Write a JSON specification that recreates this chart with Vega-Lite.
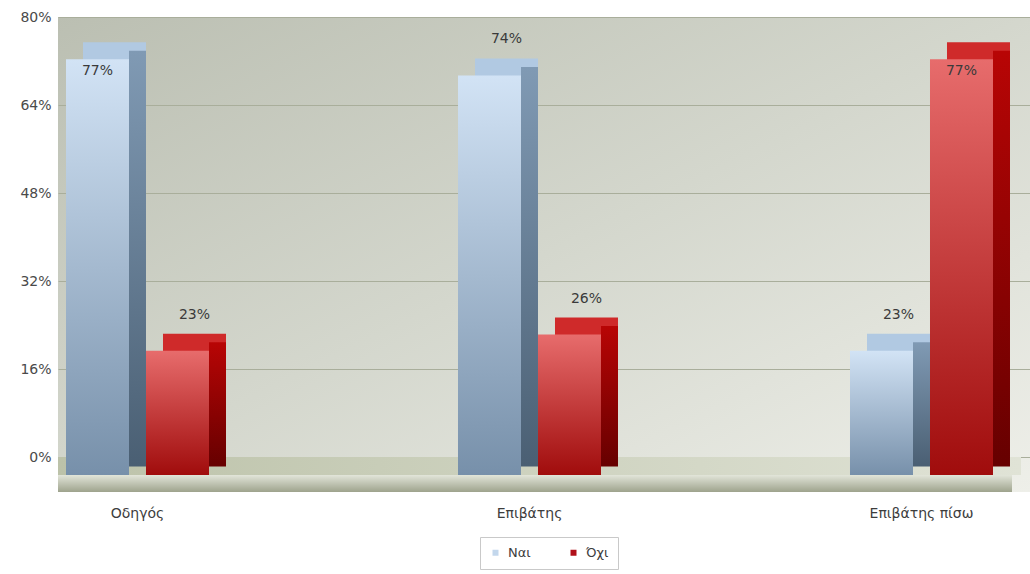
{
  "$schema": "https://vega.github.io/schema/vega-lite/v6.json",
  "width": 972,
  "height": 475,
  "autosize": {"type": "none"},
  "padding": {"left": 58, "top": 17, "right": 0, "bottom": 82},
  "background": "#ffffff",
  "view": {
    "stroke": null,
    "fill": {"gradient": "linear", "x1": 0, "y1": 0, "x2": 1, "y2": 1,
      "stops": [{"offset": 0, "color": "#bbbfb2"}, {"offset": 0.5, "color": "#d4d7cd"}, {"offset": 1, "color": "#eeefe9"}]}
  },
  "config": {
    "font": "DejaVu Sans",
    "axisX": {"domain": false, "ticks": false, "tickSize": 0, "labelPadding": 14, "labelOffset": -8.5, "labelFontSize": 14, "labelColor": "#3d3d3d", "labelAngle": 0, "grid": false}
  },
  "data": {
    "values": [
      {"category": "Οδηγός", "series": "Ναι", "value": 0.77},
      {"category": "Οδηγός", "series": "Όχι", "value": 0.23},
      {"category": "Επιβάτης", "series": "Ναι", "value": 0.74},
      {"category": "Επιβάτης", "series": "Όχι", "value": 0.26},
      {"category": "Επιβάτης πίσω", "series": "Ναι", "value": 0.23},
      {"category": "Επιβάτης πίσω", "series": "Όχι", "value": 0.77}
    ]
  },
  "resolve": {"scale": {"y": "independent", "xOffset": "independent"}},
  "layer": [
    {
      "data": {"values": [{}]},
      "mark": {"type": "rect", "xOffset": -9, "x2Offset": -9,
        "color": {"gradient": "linear", "x1": 0, "y1": 0, "x2": 1, "y2": 0,
          "stops": [{"offset": 0, "color": "#bcc2a9"}, {"offset": 1, "color": "#e0e3d6"}]}},
      "encoding": {
        "y": {"datum": 0, "type": "quantitative",
          "scale": {"domain": [0, 0.8], "range": [440, 0]},
          "axis": {"values": [0, 0.16, 0.32, 0.48, 0.64, 0.8], "format": ".0%", "grid": true, "gridColor": "#a9ae9b", "gridWidth": 1, "domain": false, "ticks": false, "tickSize": 0, "labelPadding": 7, "title": null, "labelFontSize": 14, "labelColor": "#4a4a4a"}},
        "y2": {"datum": -0.0327}
      }
    },
    {
      "data": {"values": [{}]},
      "mark": {"type": "rect", "xOffset": -18, "x2Offset": -18,
        "color": {"gradient": "linear", "x1": 0, "y1": 0, "x2": 0, "y2": 1,
          "stops": [{"offset": 0, "color": "#e2e5d9"}, {"offset": 1, "color": "#9ea38d"}]}},
      "encoding": {
        "y": {"datum": 0, "type": "quantitative", "scale": {"domain": [0, 0.8], "range": [458, 26]}, "axis": null},
        "y2": {"datum": -0.0315}
      }
    },
    {
      "mark": {"type": "square", "size": 0, "opacity": 1},
      "encoding": {
        "color": {"field": "series", "type": "nominal",
          "scale": {"domain": ["Ναι", "Όχι"], "range": ["#c3d7ec", "#b0101a"]},
          "legend": {"orient": "none", "legendX": 422, "legendY": 520, "direction": "horizontal", "title": null, "strokeColor": "#c9c9c9", "fillColor": "#ffffff", "padding": 9, "symbolType": "square", "symbolSize": 36, "symbolStrokeWidth": 0, "labelFontSize": 13, "labelColor": "#3d3d3d", "columnPadding": 36, "labelOffset": 6}}
      }
    },
    {
      "transform": [{"filter": "datum.series == 'Ναι'"}],
      "mark": {"type": "bar", "width": 63, "yOffset": -17, "y2Offset": -17, "color": "#b1c9e2"},
      "encoding": {
        "x": {"field": "category", "type": "nominal", "title": null, "scale": {"type": "band", "domain": ["Οδηγός", "Επιβάτης", "Επιβάτης πίσω"], "paddingInner": 0.5918, "paddingOuter": 0.0357, "align": 0.2857}},
        "xOffset": {"field": "series", "type": "nominal", "scale": {"domain": ["Ναι", "Όχι"], "range": [8.5, 168.5], "paddingInner": 0, "paddingOuter": 0}},
        "y": {"field": "value", "type": "quantitative", "scale": {"domain": [0, 0.8], "range": [458, 26]}, "axis": null}
      }
    },
    {
      "transform": [{"filter": "datum.series == 'Όχι'"}],
      "mark": {"type": "bar", "width": 63, "yOffset": -17, "y2Offset": -17, "color": "#cf2a2a"},
      "encoding": {
        "x": {"field": "category", "type": "nominal", "title": null, "scale": {"type": "band", "domain": ["Οδηγός", "Επιβάτης", "Επιβάτης πίσω"], "paddingInner": 0.5918, "paddingOuter": 0.0357, "align": 0.2857}},
        "xOffset": {"field": "series", "type": "nominal", "scale": {"domain": ["Ναι", "Όχι"], "range": [8.5, 168.5], "paddingInner": 0, "paddingOuter": 0}},
        "y": {"field": "value", "type": "quantitative", "scale": {"domain": [0, 0.8], "range": [458, 26]}, "axis": null}
      }
    },
    {
      "transform": [{"filter": "datum.series == 'Ναι'"}],
      "mark": {"type": "bar", "width": 17, "yOffset": -8.5, "y2Offset": -8.5,
        "color": {"gradient": "linear", "x1": 0, "y1": 0, "x2": 0, "y2": 1,
          "stops": [{"offset": 0, "color": "#809ab4"}, {"offset": 1, "color": "#4a5f73"}]}},
      "encoding": {
        "x": {"field": "category", "type": "nominal", "title": null, "scale": {"type": "band", "domain": ["Οδηγός", "Επιβάτης", "Επιβάτης πίσω"], "paddingInner": 0.5918, "paddingOuter": 0.0357, "align": 0.2857}},
        "xOffset": {"field": "series", "type": "nominal", "scale": {"domain": ["Ναι", "Όχι"], "range": [31.5, 191.5], "paddingInner": 0, "paddingOuter": 0}},
        "y": {"field": "value", "type": "quantitative", "scale": {"domain": [0, 0.8], "range": [458, 26]}, "axis": null}
      }
    },
    {
      "transform": [{"filter": "datum.series == 'Όχι'"}],
      "mark": {"type": "bar", "width": 17, "yOffset": -8.5, "y2Offset": -8.5,
        "color": {"gradient": "linear", "x1": 0, "y1": 0, "x2": 0, "y2": 1,
          "stops": [{"offset": 0, "color": "#b80505"}, {"offset": 1, "color": "#660000"}]}},
      "encoding": {
        "x": {"field": "category", "type": "nominal", "title": null, "scale": {"type": "band", "domain": ["Οδηγός", "Επιβάτης", "Επιβάτης πίσω"], "paddingInner": 0.5918, "paddingOuter": 0.0357, "align": 0.2857}},
        "xOffset": {"field": "series", "type": "nominal", "scale": {"domain": ["Ναι", "Όχι"], "range": [31.5, 191.5], "paddingInner": 0, "paddingOuter": 0}},
        "y": {"field": "value", "type": "quantitative", "scale": {"domain": [0, 0.8], "range": [458, 26]}, "axis": null}
      }
    },
    {
      "transform": [{"filter": "datum.series == 'Ναι'"}],
      "mark": {"type": "bar", "width": 63,
        "color": {"gradient": "linear", "x1": 0, "y1": 0, "x2": 0, "y2": 1,
          "stops": [{"offset": 0, "color": "#d2e3f5"}, {"offset": 1, "color": "#7790aa"}]}},
      "encoding": {
        "x": {"field": "category", "type": "nominal", "title": null, "scale": {"type": "band", "domain": ["Οδηγός", "Επιβάτης", "Επιβάτης πίσω"], "paddingInner": 0.5918, "paddingOuter": 0.0357, "align": 0.2857}},
        "xOffset": {"field": "series", "type": "nominal", "scale": {"domain": ["Ναι", "Όχι"], "range": [-8.5, 151.5], "paddingInner": 0, "paddingOuter": 0}},
        "y": {"field": "value", "type": "quantitative", "scale": {"domain": [0, 0.8], "range": [458, 26]}, "axis": null}
      }
    },
    {
      "transform": [{"filter": "datum.series == 'Όχι'"}],
      "mark": {"type": "bar", "width": 63,
        "color": {"gradient": "linear", "x1": 0, "y1": 0, "x2": 0, "y2": 1,
          "stops": [{"offset": 0, "color": "#e76c6c"}, {"offset": 1, "color": "#a00c0c"}]}},
      "encoding": {
        "x": {"field": "category", "type": "nominal", "title": null, "scale": {"type": "band", "domain": ["Οδηγός", "Επιβάτης", "Επιβάτης πίσω"], "paddingInner": 0.5918, "paddingOuter": 0.0357, "align": 0.2857}},
        "xOffset": {"field": "series", "type": "nominal", "scale": {"domain": ["Ναι", "Όχι"], "range": [-8.5, 151.5], "paddingInner": 0, "paddingOuter": 0}},
        "y": {"field": "value", "type": "quantitative", "scale": {"domain": [0, 0.8], "range": [458, 26]}, "axis": null}
      }
    },
    {
      "transform": [{"filter": "datum.value < 0.75"}],
      "mark": {"type": "text", "baseline": "middle", "align": "center", "dy": -36, "fontSize": 14, "color": "#3a3a3a"},
      "encoding": {
        "x": {"field": "category", "type": "nominal", "title": null, "scale": {"type": "band", "domain": ["Οδηγός", "Επιβάτης", "Επιβάτης πίσω"], "paddingInner": 0.5918, "paddingOuter": 0.0357, "align": 0.2857}},
        "xOffset": {"field": "series", "type": "nominal", "scale": {"type": "point", "domain": ["Ναι", "Όχι"], "range": [48.5, 128.5], "padding": 0}},
        "y": {"field": "value", "type": "quantitative", "scale": {"domain": [0, 0.8], "range": [458, 26]}, "axis": null},
        "text": {"field": "value", "type": "quantitative", "format": ".0%"}
      }
    },
    {
      "transform": [{"filter": "datum.value >= 0.75"}],
      "mark": {"type": "text", "baseline": "middle", "align": "center", "dy": 12, "fontSize": 14, "color": "#3a3a3a"},
      "encoding": {
        "x": {"field": "category", "type": "nominal", "title": null, "scale": {"type": "band", "domain": ["Οδηγός", "Επιβάτης", "Επιβάτης πίσω"], "paddingInner": 0.5918, "paddingOuter": 0.0357, "align": 0.2857}},
        "xOffset": {"field": "series", "type": "nominal", "scale": {"type": "point", "domain": ["Ναι", "Όχι"], "range": [31.5, 111.5], "padding": 0}},
        "y": {"field": "value", "type": "quantitative", "scale": {"domain": [0, 0.8], "range": [458, 26]}, "axis": null},
        "text": {"field": "value", "type": "quantitative", "format": ".0%"}
      }
    }
  ]
}
